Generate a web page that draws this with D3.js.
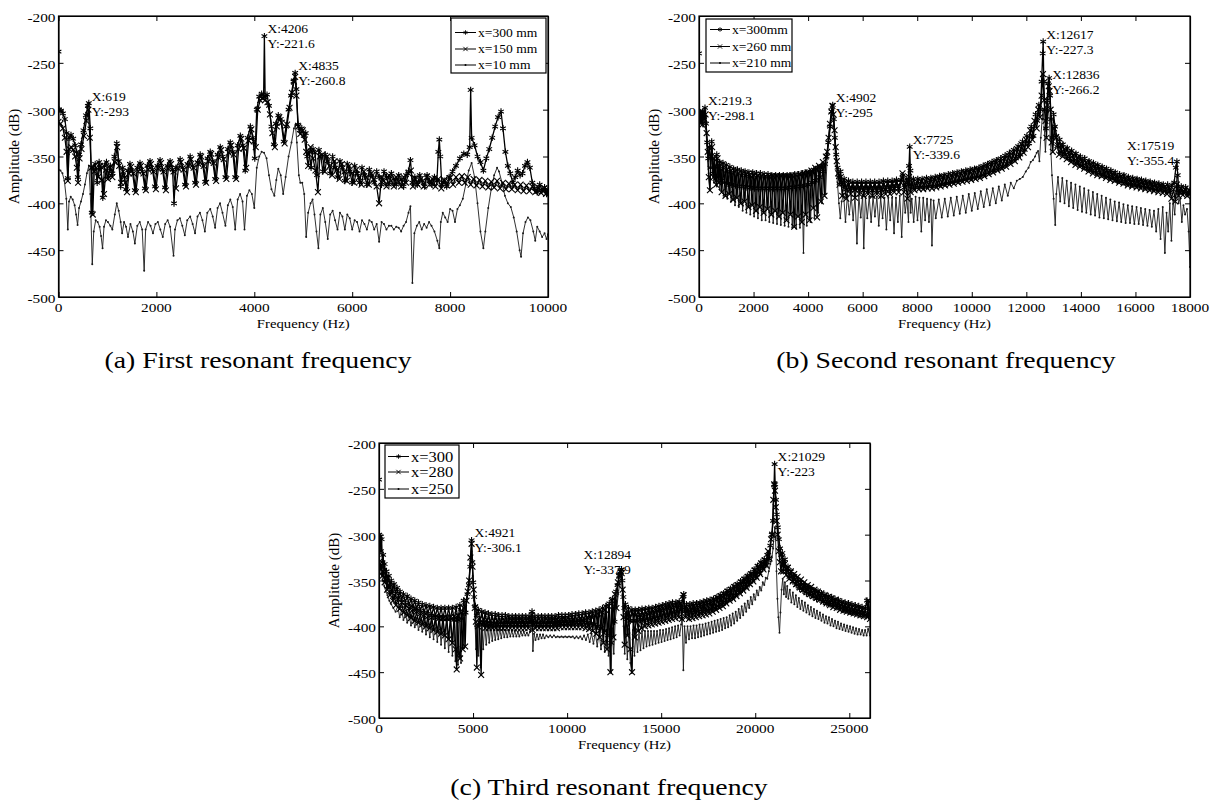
<!DOCTYPE html>
<html>
<head>
<meta charset="utf-8">
<script src="https://cdn.jsdelivr.net/npm/d3@7"></script>
<style>
  html, body { margin: 0; background: #fff; }
  svg text { font-family: "Liberation Serif", "Times New Roman", serif; fill: #000; }
</style>
</head>
<body>
<svg id="fig" width="1217" height="802"></svg>
<script>
// ---------- data: [frequency Hz, amplitude dB] ----------
const yTicks = [-500, -450, -400, -350, -300, -250, -200];
const aXTicks = [0, 2000, 4000, 6000, 8000, 10000];
const bXTicks = [0, 2000, 4000, 6000, 8000, 10000, 12000, 14000, 16000, 18000];
const cXTicks = [0, 5000, 10000, 15000, 20000, 25000];

const aLegend = ['x=300 mm', 'x=150 mm', 'x=10 mm'];
const bLegend = ['x=300mm', 'x=260 mm', 'x=210 mm'];
const cLegend = ['x=300', 'x=280', 'x=250'];

const aCaption = '(a) First resonant frequency';
const bCaption = '(b) Second resonant frequency';
const cCaption = '(c) Third resonant frequency';

const aPeaks = [[619, -293], [4206, -221.6], [4835, -260.8]];
const bPeaks = [[219.3, -298.1], [4902, -295], [7725, -339.6], [12617, -227.3], [12836, -266.2], [17519, -355.4]];
const cPeaks = [[4921, -306.1], [12894, -337.9], [21029, -223]];

const aSeries300 = [[0,-238],[10,-300],[50,-301],[90,-304],[130,-310],[165,-325],[190,-373],[215,-330],[255,-327],[300,-331],[340,-338],[370,-345],[395,-372],[420,-348],[460,-337],[510,-322],[560,-306],[600,-296],[619,-293],[650,-320],[680,-410],[710,-362],[750,-358],[790,-378],[830,-356],[870,-362],[905,-394],[940,-360],[980,-356],[1020,-372],[1060,-360],[1100,-368],[1140,-350],[1190,-336],[1230,-355],[1270,-382],[1310,-362],[1350,-372],[1380,-385],[1420,-365],[1460,-358],[1510,-366],[1560,-386],[1610,-362],[1665,-357],[1715,-366],[1765,-384],[1815,-360],[1870,-355],[1920,-364],[1970,-382],[2020,-360],[2075,-354],[2125,-364],[2175,-383],[2225,-360],[2280,-355],[2330,-364],[2360,-400],[2400,-362],[2485,-353],[2535,-362],[2585,-380],[2635,-358],[2690,-350],[2740,-360],[2790,-378],[2840,-356],[2895,-348],[2945,-358],[2995,-377],[3045,-352],[3100,-345],[3150,-355],[3200,-374],[3250,-348],[3305,-340],[3355,-350],[3410,-372],[3460,-342],[3510,-335],[3560,-345],[3610,-372],[3660,-338],[3715,-328],[3765,-338],[3815,-365],[3865,-330],[3920,-318],[3970,-330],[4010,-352],[4050,-300],[4100,-286],[4150,-283],[4190,-286],[4206,-221.6],[4222,-287],[4260,-284],[4300,-296],[4350,-318],[4400,-337],[4440,-315],[4490,-306],[4540,-310],[4600,-334],[4650,-318],[4700,-300],[4750,-285],[4800,-270],[4835,-260.8],[4860,-278],[4890,-316],[4930,-322],[4970,-320],[5010,-328],[5050,-325],[5080,-350],[5120,-345],[5160,-362],[5200,-342],[5240,-346],[5280,-370],[5320,-343],[5360,-350],[5400,-366],[5450,-348],[5500,-355],[5550,-368],[5600,-350],[5650,-362],[5700,-372],[5750,-355],[5800,-362],[5850,-376],[5900,-358],[5950,-366],[6000,-378],[6050,-360],[6100,-368],[6150,-378],[6200,-362],[6250,-370],[6300,-380],[6350,-364],[6400,-370],[6450,-378],[6500,-366],[6550,-372],[6600,-380],[6650,-366],[6700,-372],[6750,-380],[6800,-368],[6850,-374],[6900,-380],[6950,-370],[7000,-375],[7050,-382],[7100,-370],[7150,-366],[7190,-354],[7230,-378],[7280,-372],[7330,-380],[7380,-370],[7430,-376],[7480,-382],[7530,-370],[7580,-376],[7630,-380],[7680,-372],[7730,-376],[7760,-345],[7780,-332],[7800,-350],[7830,-380],[7880,-376],[7930,-382],[7980,-372],[8050,-366],[8120,-360],[8200,-352],[8280,-347],[8350,-348],[8400,-340],[8420,-279],[8440,-330],[8500,-338],[8560,-350],[8620,-356],[8680,-365],[8740,-352],[8800,-342],[8860,-330],[8920,-318],[8980,-308],[9040,-302],[9080,-320],[9130,-345],[9180,-360],[9230,-368],[9280,-378],[9330,-372],[9380,-365],[9430,-370],[9480,-368],[9530,-360],[9580,-356],[9630,-362],[9680,-378],[9730,-384],[9780,-388],[9830,-380],[9880,-386],[9930,-383],[9970,-390],[10000,-386]];

const aSeries150 = [[0,-313],[40,-315],[90,-320],[130,-330],[165,-345],[190,-376],[220,-342],[260,-340],[300,-343],[340,-350],[375,-362],[400,-378],[430,-352],[470,-342],[520,-328],[570,-312],[610,-300],[640,-330],[670,-362],[700,-412],[730,-366],[770,-362],[810,-372],[850,-360],[890,-375],[930,-390],[970,-364],[1010,-374],[1050,-362],[1100,-372],[1150,-356],[1200,-340],[1240,-360],[1280,-378],[1320,-366],[1365,-378],[1400,-388],[1440,-368],[1485,-361],[1530,-368],[1580,-388],[1630,-366],[1685,-360],[1735,-368],[1785,-386],[1835,-364],[1890,-358],[1940,-366],[1990,-385],[2040,-363],[2095,-357],[2145,-366],[2195,-386],[2245,-363],[2300,-358],[2350,-366],[2400,-384],[2450,-363],[2505,-356],[2555,-364],[2605,-382],[2655,-360],[2710,-353],[2760,-362],[2810,-380],[2860,-358],[2915,-350],[2965,-360],[3015,-378],[3065,-355],[3120,-347],[3170,-357],[3220,-376],[3270,-351],[3325,-343],[3375,-353],[3430,-374],[3480,-346],[3530,-338],[3580,-348],[3630,-374],[3680,-342],[3735,-331],[3785,-341],[3835,-362],[3885,-333],[3940,-321],[3990,-334],[4030,-340],[4070,-300],[4120,-290],[4170,-288],[4220,-290],[4270,-292],[4320,-305],[4370,-325],[4420,-340],[4460,-318],[4510,-308],[4560,-314],[4620,-336],[4670,-316],[4720,-298],[4770,-282],[4810,-270],[4835,-265],[4860,-285],[4900,-318],[4940,-326],[4990,-322],[5030,-332],[5060,-345],[5100,-360],[5150,-340],[5200,-352],[5250,-365],[5300,-388],[5340,-350],[5390,-348],[5440,-366],[5490,-350],[5540,-360],[5590,-370],[5640,-355],[5690,-364],[5740,-374],[5790,-358],[5840,-366],[5890,-376],[5940,-360],[5990,-368],[6040,-378],[6090,-364],[6140,-372],[6190,-380],[6240,-366],[6290,-372],[6340,-380],[6390,-368],[6440,-374],[6500,-382],[6550,-400],[6600,-372],[6650,-376],[6700,-382],[6750,-370],[6800,-376],[6850,-382],[6900,-372],[6950,-377],[7000,-382],[7050,-372],[7100,-378],[7150,-368],[7200,-365],[7240,-382],[7290,-374],[7340,-380],[7400,-374],[7460,-382],[7520,-372],[7580,-380],[7640,-374],[7700,-382],[7760,-374],[7820,-384],[7880,-375],[7940,-381],[8000,-373],[8060,-380],[8120,-372],[8180,-378],[8240,-371],[8300,-378],[8360,-372],[8420,-380],[8480,-374],[8540,-381],[8600,-375],[8660,-382],[8720,-376],[8780,-383],[8840,-377],[8900,-383],[8960,-376],[9020,-384],[9080,-378],[9140,-385],[9200,-379],[9260,-385],[9320,-380],[9380,-386],[9440,-380],[9500,-387],[9560,-381],[9620,-387],[9680,-382],[9740,-388],[9800,-383],[9860,-389],[9920,-384],[9960,-390],[10000,-386]];

const aSeries10 = [[0,-364],[40,-365],[80,-368],[120,-376],[160,-395],[190,-428],[215,-398],[250,-393],[290,-396],[330,-402],[360,-412],[390,-423],[420,-405],[460,-398],[500,-390],[540,-380],[580,-368],[620,-360],[650,-390],[690,-465],[720,-430],[760,-418],[800,-420],[840,-425],[870,-435],[900,-448],[930,-425],[970,-418],[1010,-420],[1060,-424],[1100,-428],[1150,-412],[1190,-400],[1230,-408],[1270,-420],[1300,-432],[1340,-420],[1380,-425],[1420,-436],[1470,-422],[1520,-430],[1560,-443],[1610,-424],[1660,-420],[1710,-428],[1750,-472],[1780,-428],[1830,-420],[1880,-424],[1930,-432],[1980,-422],[2030,-420],[2080,-428],[2130,-436],[2180,-422],[2230,-418],[2280,-425],[2350,-456],[2380,-428],[2430,-418],[2480,-416],[2530,-424],[2580,-434],[2630,-418],[2690,-414],[2740,-422],[2790,-432],[2840,-414],[2890,-410],[2940,-418],[2990,-430],[3040,-410],[3100,-406],[3150,-414],[3200,-426],[3250,-405],[3300,-400],[3350,-410],[3410,-424],[3460,-402],[3510,-396],[3560,-404],[3610,-428],[3660,-396],[3710,-390],[3760,-398],[3800,-428],[3850,-392],[3900,-386],[3950,-390],[4000,-405],[4050,-362],[4100,-350],[4150,-345],[4200,-346],[4250,-352],[4300,-370],[4350,-385],[4410,-392],[4450,-375],[4490,-363],[4540,-370],[4590,-390],[4640,-372],[4700,-350],[4760,-335],[4810,-320],[4840,-316],[4870,-335],[4910,-370],[4940,-378],[4980,-378],[5020,-390],[5060,-436],[5100,-410],[5150,-400],[5190,-396],[5230,-412],[5270,-430],[5310,-448],[5350,-412],[5400,-405],[5450,-420],[5500,-438],[5550,-412],[5600,-408],[5650,-418],[5700,-428],[5750,-410],[5800,-414],[5850,-428],[5900,-412],[5950,-416],[6000,-428],[6050,-418],[6100,-420],[6150,-430],[6200,-418],[6250,-422],[6300,-428],[6350,-418],[6400,-420],[6450,-428],[6500,-422],[6550,-441],[6600,-420],[6650,-422],[6700,-428],[6750,-424],[6800,-424],[6850,-428],[6900,-425],[6950,-426],[7000,-430],[7050,-424],[7100,-420],[7150,-410],[7190,-403],[7230,-485],[7270,-432],[7320,-424],[7370,-420],[7420,-428],[7470,-422],[7520,-426],[7570,-420],[7620,-424],[7680,-430],[7740,-440],[7780,-448],[7810,-420],[7850,-410],[7900,-415],[7950,-420],[8000,-406],[8050,-408],[8100,-420],[8150,-406],[8200,-402],[8260,-395],[8320,-380],[8380,-365],[8440,-357],[8500,-372],[8560,-400],[8620,-430],[8680,-448],[8720,-430],[8780,-405],[8840,-385],[8900,-370],[8960,-362],[9000,-366],[9060,-378],[9120,-392],[9180,-400],[9240,-404],[9300,-415],[9360,-430],[9420,-450],[9450,-457],[9490,-432],[9540,-420],[9590,-415],[9640,-418],[9700,-430],[9740,-440],[9780,-425],[9830,-430],[9880,-436],[9930,-432],[9970,-438],[10000,-433]];

const bSeries300 = [[0,-240],[20,-306],[60,-303],[100,-312],[140,-302],[180,-308],[219.3,-298.1],[260,-315],[300,-335],[340,-352],[380,-340],[420,-362],[465,-334],[510,-368],[560,-352],[600,-374],[650,-348],[700,-372],[760,-356],[820,-376],[880,-357],[940,-378],[1000,-359],[1060,-379],[1130,-361],[1200,-380],[1270,-363],[1340,-381],[1410,-364],[1480,-382],[1550,-365],[1620,-382],[1690,-366],[1760,-383],[1830,-367],[1900,-383],[1970,-367],[2040,-384],[2110,-368],[2180,-384],[2250,-368],[2320,-384],[2390,-369],[2460,-384],[2530,-369],[2600,-384],[2670,-370],[2740,-384],[2810,-370],[2880,-384],[2950,-370],[3020,-384],[3090,-370],[3160,-384],[3230,-370],[3300,-383],[3370,-370],[3440,-383],[3510,-369],[3580,-382],[3650,-369],[3720,-382],[3790,-368],[3860,-381],[3930,-367],[4000,-380],[4070,-366],[4140,-378],[4210,-364],[4280,-376],[4350,-362],[4420,-372],[4490,-360],[4560,-366],[4620,-358],[4680,-350],[4740,-335],[4800,-318],[4860,-302],[4902,-295],[4940,-310],[4980,-330],[5030,-348],[5080,-362],[5130,-372],[5190,-366],[5250,-380],[5320,-374],[5400,-385],[5480,-376],[5560,-386],[5640,-377],[5720,-386],[5800,-377],[5880,-386],[5960,-377],[6040,-386],[6120,-377],[6200,-386],[6280,-377],[6360,-386],[6440,-377],[6520,-386],[6600,-377],[6680,-386],[6760,-376],[6840,-385],[6920,-376],[7000,-385],[7080,-376],[7160,-384],[7240,-375],[7320,-384],[7400,-375],[7480,-370],[7540,-383],[7600,-374],[7660,-380],[7700,-360],[7725,-339.6],[7750,-365],[7800,-382],[7860,-374],[7940,-383],[8020,-374],[8100,-383],[8180,-374],[8260,-383],[8340,-373],[8420,-382],[8500,-373],[8580,-382],[8660,-372],[8740,-381],[8820,-371],[8900,-380],[8980,-370],[9060,-379],[9140,-369],[9220,-378],[9300,-368],[9380,-377],[9460,-367],[9540,-376],[9620,-366],[9700,-375],[9780,-365],[9860,-374],[9940,-364],[10020,-373],[10100,-363],[10180,-372],[10260,-362],[10340,-371],[10420,-360],[10500,-369],[10580,-358],[10660,-367],[10740,-356],[10820,-365],[10900,-354],[10980,-363],[11060,-352],[11140,-361],[11220,-349],[11300,-358],[11380,-346],[11460,-355],[11540,-343],[11620,-352],[11700,-339],[11780,-348],[11860,-334],[11940,-343],[12020,-328],[12100,-336],[12180,-318],[12260,-328],[12340,-305],[12400,-312],[12460,-295],[12520,-300],[12560,-270],[12600,-240],[12617,-227.3],[12640,-270],[12680,-300],[12720,-320],[12760,-290],[12800,-272],[12836,-266.2],[12870,-285],[12910,-310],[12950,-330],[13000,-305],[13050,-318],[13100,-328],[13160,-340],[13220,-332],[13280,-345],[13340,-337],[13420,-348],[13500,-341],[13580,-352],[13660,-344],[13740,-355],[13820,-347],[13900,-358],[13980,-350],[14060,-360],[14140,-352],[14220,-363],[14300,-355],[14380,-365],[14460,-357],[14540,-367],[14620,-359],[14700,-369],[14780,-361],[14860,-371],[14940,-363],[15020,-372],[15100,-365],[15180,-374],[15260,-367],[15340,-376],[15420,-369],[15500,-377],[15580,-370],[15660,-379],[15740,-372],[15820,-380],[15900,-373],[15980,-381],[16060,-374],[16140,-382],[16220,-375],[16300,-383],[16380,-376],[16460,-384],[16540,-377],[16620,-385],[16700,-378],[16780,-386],[16860,-379],[16940,-386],[17020,-380],[17100,-387],[17180,-380],[17260,-388],[17340,-381],[17420,-378],[17480,-362],[17519,-355.4],[17550,-370],[17600,-388],[17680,-382],[17760,-389],[17840,-383],[17920,-390],[18000,-386]];

const bSeries260 = [[0,-308],[40,-312],[80,-305],[120,-316],[160,-304],[200,-310],[240,-305],[280,-325],[320,-345],[360,-372],[400,-386],[440,-350],[480,-340],[530,-372],[580,-360],[630,-380],[680,-352],[730,-378],[760,-360],[830,-388],[900,-362],[970,-392],[1040,-364],[1110,-390],[1180,-365],[1250,-396],[1320,-366],[1390,-394],[1460,-368],[1530,-400],[1600,-368],[1670,-398],[1740,-369],[1810,-404],[1880,-370],[1950,-402],[2020,-370],[2090,-408],[2160,-371],[2230,-404],[2300,-371],[2370,-410],[2440,-371],[2510,-406],[2580,-371],[2650,-412],[2720,-371],[2790,-408],[2860,-371],[2930,-414],[3000,-371],[3070,-410],[3140,-371],[3210,-418],[3280,-371],[3350,-412],[3420,-370],[3490,-425],[3560,-370],[3630,-414],[3700,-369],[3770,-420],[3840,-368],[3910,-412],[3980,-367],[4050,-418],[4120,-365],[4190,-405],[4260,-362],[4330,-415],[4400,-360],[4470,-398],[4540,-356],[4600,-392],[4650,-350],[4700,-345],[4750,-330],[4800,-315],[4850,-302],[4890,-296],[4930,-305],[4970,-322],[5010,-340],[5050,-355],[5100,-368],[5150,-380],[5200,-372],[5250,-392],[5320,-378],[5400,-395],[5480,-380],[5560,-390],[5640,-380],[5720,-394],[5800,-380],[5880,-390],[5960,-380],[6040,-392],[6120,-380],[6200,-390],[6280,-380],[6360,-392],[6440,-380],[6520,-390],[6600,-380],[6680,-392],[6760,-380],[6840,-390],[6920,-379],[7000,-390],[7080,-379],[7160,-388],[7240,-378],[7320,-388],[7400,-378],[7460,-368],[7520,-388],[7580,-378],[7640,-395],[7700,-372],[7760,-388],[7820,-378],[7900,-386],[7980,-377],[8060,-385],[8140,-376],[8220,-385],[8300,-376],[8380,-384],[8460,-375],[8540,-384],[8620,-374],[8700,-383],[8780,-373],[8860,-382],[8940,-372],[9020,-381],[9100,-371],[9180,-380],[9260,-370],[9340,-379],[9420,-369],[9500,-378],[9580,-368],[9660,-377],[9740,-367],[9820,-376],[9900,-366],[9980,-375],[10060,-365],[10140,-374],[10220,-364],[10300,-373],[10380,-362],[10460,-371],[10540,-360],[10620,-369],[10700,-358],[10780,-367],[10860,-356],[10940,-365],[11020,-354],[11100,-363],[11180,-352],[11260,-361],[11340,-349],[11420,-358],[11500,-346],[11580,-355],[11660,-342],[11740,-351],[11820,-337],[11900,-346],[11980,-332],[12060,-340],[12140,-322],[12220,-332],[12300,-312],[12380,-320],[12440,-300],[12500,-308],[12560,-285],[12610,-262],[12650,-290],[12700,-312],[12740,-330],[12780,-295],[12820,-275],[12850,-280],[12890,-300],[12930,-335],[12970,-345],[13020,-320],[13080,-330],[13140,-338],[13200,-348],[13260,-338],[13330,-350],[13400,-342],[13480,-353],[13560,-345],[13640,-356],[13720,-348],[13800,-359],[13880,-351],[13960,-361],[14040,-353],[14120,-363],[14200,-356],[14280,-366],[14360,-358],[14440,-368],[14520,-360],[14600,-370],[14680,-362],[14760,-371],[14840,-364],[14920,-373],[15000,-366],[15080,-375],[15160,-368],[15240,-376],[15320,-370],[15400,-378],[15480,-371],[15560,-379],[15640,-373],[15720,-381],[15800,-374],[15880,-382],[15960,-375],[16040,-383],[16120,-376],[16200,-384],[16280,-377],[16360,-385],[16440,-378],[16520,-386],[16600,-379],[16680,-387],[16760,-380],[16840,-388],[16920,-381],[17000,-389],[17080,-382],[17160,-390],[17240,-383],[17320,-395],[17400,-385],[17460,-398],[17520,-380],[17580,-392],[17660,-384],[17740,-391],[17820,-385],[17900,-392],[17960,-386],[18000,-390]];

const bSeries210 = [[0,-310],[50,-315],[100,-308],[150,-318],[200,-312],[250,-320],[300,-345],[350,-368],[400,-386],[450,-352],[500,-348],[550,-378],[600,-362],[650,-382],[700,-360],[760,-385],[830,-364],[900,-392],[970,-366],[1040,-395],[1110,-367],[1180,-398],[1250,-368],[1320,-402],[1390,-369],[1460,-404],[1530,-370],[1600,-408],[1670,-371],[1740,-410],[1810,-371],[1880,-412],[1950,-372],[2020,-414],[2090,-372],[2160,-416],[2230,-372],[2300,-418],[2370,-372],[2440,-418],[2510,-372],[2580,-420],[2650,-372],[2720,-421],[2790,-372],[2860,-422],[2930,-372],[3000,-423],[3070,-372],[3140,-424],[3210,-372],[3280,-425],[3350,-371],[3420,-426],[3490,-371],[3560,-427],[3630,-370],[3700,-426],[3770,-369],[3830,-453],[3880,-368],[3950,-424],[4020,-367],[4090,-420],[4160,-366],[4230,-416],[4300,-364],[4370,-410],[4440,-362],[4510,-400],[4580,-358],[4640,-390],[4700,-350],[4760,-335],[4820,-318],[4870,-305],[4900,-302],[4940,-318],[4980,-340],[5030,-360],[5080,-380],[5130,-400],[5180,-416],[5230,-398],[5300,-390],[5370,-420],[5440,-391],[5510,-412],[5580,-392],[5650,-418],[5720,-392],[5790,-443],[5860,-392],[5930,-415],[6000,-392],[6040,-448],[6100,-393],[6170,-416],[6240,-393],[6310,-420],[6380,-393],[6450,-414],[6520,-393],[6590,-424],[6660,-394],[6730,-416],[6800,-394],[6870,-428],[6940,-394],[7010,-418],[7080,-394],[7150,-432],[7220,-394],[7290,-420],[7360,-392],[7430,-436],[7500,-388],[7560,-410],[7620,-395],[7680,-420],[7725,-360],[7760,-410],[7800,-395],[7870,-420],[7940,-393],[8010,-418],[8080,-394],[8150,-430],[8220,-394],[8290,-418],[8360,-395],[8430,-420],[8500,-396],[8540,-445],[8600,-397],[8680,-416],[8790,-396],[8900,-415],[9010,-395],[9120,-414],[9230,-394],[9340,-413],[9450,-393],[9560,-411],[9670,-392],[9780,-410],[9890,-390],[10000,-408],[10110,-389],[10220,-406],[10330,-387],[10440,-404],[10550,-385],[10660,-402],[10770,-384],[10880,-400],[10990,-382],[11100,-397],[11210,-380],[11320,-392],[11430,-378],[11540,-384],[11650,-376],[11760,-374],[11870,-372],[11980,-366],[12080,-362],[12160,-356],[12240,-354],[12320,-350],[12380,-346],[12430,-344],[12480,-355],[12530,-330],[12580,-310],[12617,-300],[12660,-320],[12700,-345],[12760,-310],[12820,-300],[12880,-330],[12940,-370],[13000,-395],[13060,-423],[13100,-390],[13160,-372],[13240,-398],[13320,-373],[13400,-400],[13480,-376],[13560,-403],[13640,-378],[13720,-405],[13800,-380],[13880,-407],[13960,-382],[14040,-409],[14120,-384],[14200,-410],[14280,-386],[14360,-412],[14440,-388],[14520,-413],[14600,-390],[14680,-415],[14760,-392],[14840,-416],[14920,-394],[15000,-417],[15080,-396],[15160,-418],[15240,-398],[15320,-419],[15400,-399],[15480,-420],[15560,-401],[15640,-421],[15720,-402],[15800,-421],[15880,-403],[15960,-422],[16040,-404],[16120,-422],[16200,-405],[16280,-423],[16360,-406],[16440,-424],[16520,-407],[16600,-425],[16680,-408],[16760,-430],[16840,-406],[16920,-438],[17000,-404],[17080,-453],[17140,-410],[17200,-430],[17260,-400],[17320,-440],[17380,-396],[17440,-412],[17519,-372],[17580,-400],[17640,-395],[17700,-420],[17760,-402],[17820,-412],[17890,-406],[17950,-430],[18000,-468]];

const cSeries300 = [[0,-240],[15,-300],[60,-302],[100,-318],[140,-305],[180,-330],[220,-322],[260,-338],[300,-332],[350,-346],[400,-340],[460,-352],[520,-345],[580,-356],[650,-350],[720,-360],[800,-354],[880,-364],[960,-358],[1040,-368],[1120,-362],[1200,-371],[1300,-365],[1400,-374],[1500,-367],[1600,-377],[1700,-370],[1800,-379],[1900,-372],[2000,-381],[2100,-374],[2200,-383],[2300,-376],[2400,-385],[2500,-377],[2600,-386],[2700,-378],[2800,-388],[2900,-379],[3000,-389],[3100,-380],[3200,-390],[3300,-380],[3400,-391],[3500,-380],[3600,-392],[3700,-380],[3800,-392],[3900,-380],[4000,-393],[4100,-379],[4200,-393],[4300,-377],[4400,-392],[4500,-372],[4600,-385],[4700,-365],[4780,-355],[4850,-335],[4921,-306.1],[4960,-330],[5010,-352],[5060,-368],[5120,-378],[5200,-388],[5280,-382],[5380,-396],[5460,-384],[5560,-396],[5640,-385],[5740,-397],[5820,-386],[5920,-397],[6000,-387],[6100,-397],[6180,-387],[6280,-398],[6360,-388],[6460,-398],[6540,-388],[6640,-398],[6720,-388],[6820,-398],[6900,-389],[7000,-398],[7080,-389],[7180,-398],[7260,-389],[7360,-398],[7440,-389],[7540,-398],[7620,-389],[7720,-398],[7800,-389],[7900,-398],[7980,-389],[8080,-396],[8135,-384],[8190,-396],[8280,-389],[8380,-398],[8460,-389],[8560,-398],[8640,-389],[8740,-398],[8820,-389],[8920,-398],[9000,-389],[9100,-398],[9180,-389],[9280,-398],[9360,-389],[9460,-397],[9540,-388],[9640,-397],[9720,-388],[9820,-397],[9900,-388],[10000,-397],[10080,-388],[10180,-397],[10260,-387],[10360,-396],[10440,-387],[10540,-396],[10620,-386],[10720,-396],[10800,-386],[10900,-396],[10980,-385],[11080,-396],[11160,-385],[11260,-397],[11340,-384],[11440,-398],[11520,-383],[11620,-400],[11700,-382],[11800,-402],[11880,-380],[11980,-405],[12060,-378],[12160,-410],[12240,-375],[12340,-418],[12420,-370],[12520,-395],[12600,-362],[12680,-355],[12760,-345],[12830,-340],[12894,-337.9],[12940,-350],[12990,-368],[13040,-380],[13100,-376],[13180,-392],[13260,-380],[13360,-394],[13440,-382],[13540,-394],[13620,-382],[13720,-394],[13800,-382],[13900,-393],[13980,-381],[14080,-393],[14160,-381],[14260,-392],[14340,-380],[14440,-392],[14520,-380],[14620,-391],[14700,-379],[14800,-390],[14880,-378],[14980,-389],[15060,-377],[15160,-388],[15240,-376],[15340,-387],[15420,-375],[15520,-386],[15600,-374],[15700,-385],[15780,-374],[15880,-384],[15960,-373],[16060,-382],[16140,-368],[16200,-365],[16260,-384],[16340,-376],[16440,-386],[16520,-376],[16620,-385],[16700,-375],[16800,-385],[16880,-375],[16980,-384],[17060,-374],[17160,-384],[17240,-373],[17340,-383],[17420,-372],[17520,-382],[17600,-371],[17700,-381],[17780,-370],[17880,-380],[17960,-368],[18060,-378],[18140,-366],[18240,-376],[18320,-364],[18420,-374],[18500,-361],[18600,-371],[18680,-359],[18780,-369],[18860,-356],[18960,-366],[19040,-354],[19140,-363],[19220,-351],[19320,-360],[19400,-348],[19500,-357],[19580,-345],[19680,-354],[19760,-342],[19860,-350],[19940,-338],[20040,-346],[20120,-334],[20220,-342],[20300,-330],[20400,-337],[20480,-327],[20560,-333],[20640,-322],[20720,-328],[20800,-312],[20880,-300],[20950,-285],[21000,-245],[21029,-223],[21060,-245],[21100,-262],[21150,-278],[21200,-292],[21260,-305],[21320,-315],[21380,-322],[21440,-320],[21500,-332],[21580,-327],[21660,-340],[21740,-335],[21820,-346],[21900,-340],[22000,-351],[22080,-345],[22180,-355],[22260,-349],[22360,-359],[22440,-352],[22540,-361],[22620,-355],[22720,-364],[22800,-357],[22900,-366],[22980,-359],[23080,-368],[23160,-361],[23260,-370],[23340,-362],[23440,-371],[23520,-364],[23620,-373],[23700,-366],[23800,-375],[23880,-367],[23980,-376],[24060,-368],[24160,-377],[24240,-370],[24340,-379],[24420,-371],[24520,-380],[24600,-373],[24700,-382],[24780,-374],[24880,-383],[24960,-375],[25060,-384],[25140,-376],[25240,-385],[25320,-377],[25420,-386],[25500,-378],[25600,-387],[25680,-379],[25780,-388],[25860,-380],[25940,-372],[26020,-389],[26100,-382]];

const cSeries280 = [[0,-330],[40,-332],[80,-338],[130,-333],[180,-345],[240,-340],[300,-352],[360,-348],[430,-360],[500,-355],[580,-366],[660,-360],[740,-372],[820,-366],[900,-377],[1000,-370],[1100,-381],[1200,-374],[1300,-385],[1400,-377],[1500,-388],[1600,-380],[1700,-391],[1800,-382],[1900,-394],[2000,-384],[2100,-396],[2200,-386],[2300,-398],[2400,-388],[2500,-400],[2600,-389],[2700,-402],[2800,-390],[2900,-404],[3000,-390],[3100,-406],[3200,-391],[3300,-408],[3400,-391],[3500,-410],[3600,-391],[3700,-414],[3800,-390],[3900,-418],[4000,-389],[4080,-425],[4130,-447],[4180,-388],[4250,-430],[4310,-435],[4370,-385],[4450,-425],[4520,-380],[4580,-422],[4650,-372],[4720,-362],[4790,-350],[4860,-325],[4921,-310],[4970,-335],[5030,-360],[5090,-380],[5150,-395],[5200,-445],[5260,-400],[5330,-392],[5430,-453],[5480,-398],[5560,-392],[5650,-402],[5740,-393],[5840,-402],[5930,-394],[6030,-402],[6120,-394],[6220,-402],[6310,-394],[6410,-402],[6500,-394],[6600,-402],[6690,-394],[6790,-402],[6880,-394],[6980,-402],[7070,-394],[7170,-402],[7260,-394],[7360,-402],[7450,-394],[7550,-402],[7640,-394],[7740,-402],[7830,-394],[7930,-402],[8020,-394],[8120,-388],[8160,-404],[8220,-394],[8320,-402],[8410,-394],[8510,-402],[8600,-394],[8700,-402],[8790,-394],[8890,-402],[8980,-394],[9080,-402],[9170,-394],[9270,-402],[9360,-394],[9460,-402],[9550,-394],[9650,-401],[9740,-393],[9840,-401],[9930,-393],[10030,-401],[10120,-393],[10220,-401],[10310,-392],[10410,-401],[10500,-392],[10600,-401],[10690,-391],[10790,-401],[10880,-391],[10980,-402],[11070,-390],[11170,-403],[11260,-389],[11360,-405],[11450,-388],[11550,-408],[11640,-386],[11740,-412],[11830,-384],[11930,-418],[12020,-382],[12120,-425],[12210,-378],[12300,-450],[12380,-372],[12460,-412],[12540,-365],[12620,-380],[12700,-352],[12780,-345],[12850,-340],[12900,-342],[12950,-360],[13000,-390],[13060,-420],[13120,-385],[13200,-410],[13280,-386],[13360,-425],[13450,-450],[13520,-386],[13600,-412],[13680,-387],[13780,-405],[13860,-387],[13960,-402],[14040,-386],[14140,-400],[14220,-385],[14320,-399],[14400,-384],[14500,-398],[14580,-383],[14680,-397],[14760,-382],[14860,-396],[14940,-381],[15040,-395],[15120,-380],[15220,-394],[15300,-379],[15400,-393],[15480,-378],[15580,-392],[15660,-377],[15760,-391],[15840,-376],[15940,-390],[16020,-375],[16100,-392],[16180,-366],[16240,-380],[16300,-390],[16380,-380],[16480,-392],[16560,-379],[16660,-391],[16740,-378],[16840,-390],[16920,-377],[17020,-389],[17100,-376],[17200,-388],[17280,-375],[17380,-387],[17460,-374],[17560,-386],[17640,-373],[17740,-384],[17820,-371],[17920,-382],[18000,-369],[18100,-380],[18180,-367],[18280,-378],[18360,-365],[18460,-375],[18540,-362],[18640,-372],[18720,-360],[18820,-370],[18900,-357],[19000,-367],[19080,-355],[19180,-364],[19260,-352],[19360,-361],[19440,-349],[19540,-358],[19620,-346],[19720,-354],[19800,-343],[19900,-351],[19980,-339],[20080,-347],[20160,-335],[20260,-343],[20340,-332],[20440,-338],[20520,-328],[20600,-334],[20680,-318],[20760,-326],[20840,-305],[20900,-300],[20960,-262],[21010,-245],[21050,-252],[21090,-270],[21140,-285],[21190,-300],[21250,-318],[21310,-330],[21370,-340],[21430,-325],[21490,-340],[21570,-332],[21650,-344],[21730,-336],[21810,-348],[21890,-340],[21990,-351],[22070,-343],[22170,-354],[22250,-346],[22350,-357],[22430,-349],[22530,-360],[22610,-352],[22710,-362],[22790,-355],[22890,-365],[22970,-357],[23070,-367],[23150,-360],[23250,-369],[23330,-362],[23430,-371],[23510,-364],[23610,-373],[23690,-366],[23790,-375],[23870,-368],[23970,-377],[24050,-370],[24150,-379],[24230,-372],[24330,-380],[24410,-374],[24510,-382],[24590,-375],[24690,-383],[24770,-377],[24870,-384],[24950,-378],[25050,-385],[25130,-379],[25230,-386],[25310,-380],[25410,-387],[25490,-381],[25590,-388],[25670,-382],[25770,-389],[25850,-383],[25950,-390],[26020,-372],[26100,-392]];

const cSeries250 = [[0,-330],[60,-336],[120,-342],[200,-350],[280,-356],[360,-362],[450,-366],[550,-372],[650,-376],[760,-380],[880,-384],[1000,-378],[1100,-390],[1200,-382],[1300,-393],[1400,-385],[1500,-396],[1600,-387],[1700,-399],[1800,-389],[1900,-401],[2000,-391],[2100,-404],[2200,-392],[2300,-406],[2400,-393],[2500,-409],[2600,-394],[2700,-412],[2800,-395],[2900,-414],[3000,-395],[3100,-417],[3200,-395],[3300,-420],[3400,-395],[3500,-424],[3600,-394],[3700,-428],[3800,-393],[3900,-432],[3980,-392],[4060,-438],[4120,-390],[4200,-442],[4280,-386],[4360,-440],[4440,-382],[4520,-424],[4600,-376],[4680,-368],[4760,-355],[4840,-335],[4921,-318],[4980,-345],[5050,-372],[5110,-400],[5160,-425],[5210,-398],[5280,-432],[5340,-396],[5400,-445],[5460,-397],[5540,-425],[5620,-398],[5700,-420],[5780,-399],[5860,-418],[5940,-400],[6020,-416],[6100,-401],[6180,-415],[6260,-402],[6340,-414],[6420,-403],[6500,-413],[6580,-403],[6660,-412],[6740,-404],[6820,-412],[6900,-404],[6980,-411],[7060,-405],[7140,-411],[7220,-405],[7300,-411],[7380,-406],[7460,-411],[7540,-406],[7620,-410],[7700,-406],[7780,-410],[7860,-407],[7940,-410],[8020,-406],[8100,-400],[8140,-390],[8180,-427],[8240,-408],[8320,-415],[8400,-409],[8480,-414],[8560,-409],[8640,-413],[8720,-409],[8800,-413],[8900,-410],[9000,-412],[9100,-410],[9200,-412],[9300,-410],[9400,-412],[9500,-411],[9600,-412],[9700,-411],[9800,-412],[9900,-411],[10000,-412],[10100,-411],[10200,-412],[10300,-411],[10400,-413],[10500,-411],[10600,-413],[10700,-411],[10800,-414],[10900,-410],[11000,-415],[11100,-409],[11200,-417],[11300,-408],[11400,-419],[11500,-407],[11600,-422],[11700,-406],[11800,-425],[11900,-405],[12000,-428],[12100,-404],[12200,-432],[12280,-403],[12340,-451],[12400,-402],[12480,-430],[12560,-392],[12640,-380],[12720,-365],[12800,-352],[12880,-345],[12940,-365],[13000,-400],[13060,-430],[13120,-400],[13200,-436],[13280,-403],[13360,-440],[13440,-451],[13500,-404],[13580,-432],[13660,-405],[13740,-428],[13820,-405],[13900,-426],[13980,-405],[14060,-424],[14140,-405],[14220,-422],[14300,-405],[14380,-421],[14460,-405],[14540,-420],[14620,-405],[14700,-419],[14780,-405],[14860,-418],[14940,-404],[15020,-417],[15100,-404],[15180,-416],[15260,-403],[15340,-415],[15420,-402],[15500,-414],[15580,-401],[15660,-413],[15740,-400],[15820,-412],[15900,-399],[15980,-410],[16060,-398],[16120,-390],[16180,-448],[16240,-400],[16320,-418],[16400,-400],[16480,-414],[16560,-400],[16640,-413],[16720,-399],[16800,-413],[16880,-399],[16960,-412],[17040,-398],[17120,-411],[17200,-398],[17280,-410],[17360,-397],[17440,-409],[17520,-396],[17600,-408],[17680,-395],[17760,-407],[17840,-394],[17920,-406],[18000,-393],[18080,-405],[18160,-392],[18240,-404],[18320,-391],[18400,-402],[18480,-390],[18560,-401],[18640,-388],[18720,-399],[18800,-386],[18880,-397],[18960,-384],[19040,-394],[19120,-381],[19200,-391],[19280,-378],[19360,-388],[19440,-375],[19520,-384],[19600,-372],[19680,-380],[19760,-368],[19840,-376],[19920,-365],[20000,-371],[20080,-361],[20160,-366],[20240,-357],[20320,-361],[20400,-352],[20480,-355],[20560,-347],[20640,-348],[20720,-340],[20800,-332],[20880,-325],[20950,-315],[21000,-300],[21040,-292],[21080,-305],[21130,-340],[21180,-370],[21230,-390],[21290,-407],[21340,-385],[21400,-360],[21460,-348],[21520,-365],[21580,-352],[21640,-368],[21700,-356],[21760,-370],[21840,-360],[21920,-374],[22000,-363],[22080,-376],[22160,-366],[22240,-379],[22320,-369],[22400,-381],[22480,-372],[22560,-383],[22640,-374],[22720,-385],[22800,-377],[22880,-387],[22960,-379],[23040,-389],[23120,-381],[23200,-391],[23280,-383],[23360,-392],[23440,-385],[23520,-394],[23600,-387],[23680,-396],[23760,-389],[23840,-397],[23920,-390],[24000,-399],[24080,-392],[24160,-400],[24240,-394],[24320,-402],[24400,-395],[24480,-403],[24560,-397],[24640,-404],[24720,-398],[24800,-405],[24880,-399],[24960,-406],[25040,-400],[25120,-407],[25200,-401],[25280,-408],[25360,-402],[25440,-409],[25520,-403],[25600,-409],[25680,-404],[25760,-410],[25840,-404],[25920,-410],[26000,-403],[26100,-410]];

// ---------- drawing ----------
const SX = 1.18; // the source figure is slightly stretched horizontally
const svg = d3.select('#fig');

function label(g, x, y, str, size, anchor) {
  return g.append('text')
    .attr('transform', `translate(${x},${y}) scale(${SX},1)`)
    .attr('text-anchor', anchor || 'start')
    .style('font-size', size + 'px')
    .text(str);
}

// marker styles for the three curves of each panel
const styles = [
  { type: d3.symbolAsterisk, size: 30, width: 1.3, mw: 1.1, color: '#000' },
  { type: d3.symbolTimes, size: 24, width: 1.3, mw: 1.1, color: '#000' },
  { type: null, r: 1.0, width: 0.9, color: '#1a1a1a' }
];

function drawMarker(g, st, cx, cy) {
  if (st.type) {
    g.append('path')
      .attr('d', d3.symbol().type(st.type).size(st.size)())
      .attr('transform', `translate(${cx},${cy})`)
      .attr('fill', 'none').attr('stroke', st.color).attr('stroke-width', st.mw || 0.8);
  } else {
    g.append('circle').attr('cx', cx).attr('cy', cy).attr('r', st.r).attr('fill', st.color);
  }
}

function drawPanel(p, idx) {
  const box = p.box;
  const x = d3.scaleLinear().domain([0, p.xMax]).range([box.left, box.right]);
  const y = d3.scaleLinear().domain([-500, -200]).range([box.bottom, box.top]);
  const g = svg.append('g');

  const clipId = 'clip' + idx;
  svg.append('clipPath').attr('id', clipId).append('rect')
    .attr('x', box.left).attr('y', box.top - 4)
    .attr('width', box.right - box.left).attr('height', box.bottom - box.top + 4);

  const plot = g.append('g').attr('clip-path', `url(#${clipId})`);
  const line = d3.line().x(d => x(d[0])).y(d => y(d[1]));

  // draw the lower curve first so the marked curves sit on top
  for (let k = p.series.length - 1; k >= 0; k--) {
    const st = styles[k];
    const s = plot.append('g');
    s.append('path').datum(p.series[k])
      .attr('d', line).attr('fill', 'none')
      .attr('stroke', st.color).attr('stroke-width', st.width)
      .attr('stroke-linejoin', 'round');
    p.series[k].forEach(d => drawMarker(s, st, x(d[0]), y(d[1])));
  }

  // box with inward ticks on all four sides
  const tick = 5;
  g.append('g').attr('transform', `translate(0,${box.bottom})`)
    .call(d3.axisBottom(x).tickValues(p.xTicks).tickSizeInner(-tick).tickSizeOuter(0).tickFormat(''));
  g.append('g').attr('transform', `translate(0,${box.top})`)
    .call(d3.axisTop(x).tickValues(p.xTicks).tickSizeInner(-tick).tickSizeOuter(0).tickFormat(''));
  g.append('g').attr('transform', `translate(${box.left},0)`)
    .call(d3.axisLeft(y).tickValues(yTicks).tickSizeInner(-tick).tickSizeOuter(0).tickFormat(''));
  g.append('g').attr('transform', `translate(${box.right},0)`)
    .call(d3.axisRight(y).tickValues(yTicks).tickSizeInner(-tick).tickSizeOuter(0).tickFormat(''));
  g.selectAll('.domain').attr('stroke', '#000').attr('stroke-width', 1.2);
  g.selectAll('.tick line').attr('stroke', '#000');
  g.append('rect').attr('x', box.left).attr('y', box.top)
    .attr('width', box.right - box.left).attr('height', box.bottom - box.top)
    .attr('fill', 'none').attr('stroke', '#000').attr('stroke-width', 1.2);

  // tick labels
  yTicks.forEach(v => label(g, box.left - 3, y(v) + 6, String(v), 13, 'end'));
  p.xTicks.forEach(v => label(g, x(v), box.bottom + 14.5, String(v), 13, 'middle'));

  // axis titles
  label(g, (box.left + box.right) / 2, box.bottom + 31, 'Frequency (Hz)', 12.5, 'middle');
  g.append('text')
    .attr('transform', `translate(${box.left - 40},${(box.top + box.bottom) / 2}) rotate(-90)`)
    .attr('text-anchor', 'middle').style('font-size', '15px')
    .text('Amplitude (dB)');

  // data tips
  p.peaks.forEach((pk, i) => {
    const lay = Object.assign({ dx: 3, dy1: -3, dy2: 12 }, (p.noteLayout || {})[i]);
    const px = x(pk[0]), py = y(pk[1]);
    label(g, px + lay.dx, py + lay.dy1, 'X:' + pk[0], 11.5);
    label(g, px + lay.dx, py + lay.dy2, 'Y:' + pk[1], 11.5);
  });

  // legend
  const L = p.legend;
  g.append('rect').attr('x', L.x).attr('y', L.y).attr('width', L.w).attr('height', L.h)
    .attr('fill', '#fff').attr('stroke', '#000').attr('stroke-width', 1.2);
  p.names.forEach((name, k) => {
    const ry = L.rows[k];
    const st = styles[k];
    g.append('line').attr('x1', L.lineX).attr('x2', L.lineX + L.lineW)
      .attr('y1', ry).attr('y2', ry).attr('stroke', '#000').attr('stroke-width', 1);
    drawMarker(g, st.type ? { type: st.type, size: 14, mw: 0.9, color: '#000' } : { type: null, r: 1, color: '#000' },
      L.lineX + L.lineW / 2, ry);
    label(g, L.lineX + L.lineW + 2, ry + L.font * 0.36, name, L.font);
  });

  // caption
  label(svg, p.caption.x, p.caption.y, p.caption.text, 23.5, 'middle');
}

const panels = [
  {
    box: { left: 58.5, top: 16, right: 548, bottom: 297 }, xMax: 10000, xTicks: aXTicks,
    series: [aSeries300, aSeries150, aSeries10], names: aLegend, peaks: aPeaks,
    noteLayout: { 0: { dy1: -2, dy2: 13 } },
    legend: { x: 451, y: 18, w: 95, h: 55, lineX: 455, lineW: 21, rows: [32.5, 49, 65], font: 11.5 },
    caption: { x: 258, y: 368, text: aCaption }
  },
  {
    box: { left: 699, top: 16, right: 1190, bottom: 297 }, xMax: 18000, xTicks: bXTicks,
    series: [bSeries300, bSeries260, bSeries210], names: bLegend, peaks: bPeaks,
    noteLayout: { 4: { dy1: 1, dy2: 16 }, 5: { dx: -50, dy1: -12, dy2: 3 } },
    legend: { x: 706, y: 19, w: 86, h: 53, lineX: 710, lineW: 20, rows: [29.5, 46.5, 63], font: 11.5 },
    caption: { x: 946, y: 368, text: bCaption }
  },
  {
    box: { left: 379, top: 443, right: 870, bottom: 718 }, xMax: 26100, xTicks: cXTicks,
    series: [cSeries300, cSeries280, cSeries250], names: cLegend, peaks: cPeaks,
    noteLayout: { 1: { dx: -38, dy1: -10, dy2: 5 } },
    legend: { x: 385, y: 445, w: 74, h: 53, lineX: 388, lineW: 21, rows: [456.5, 472, 489], font: 14 },
    caption: { x: 609, y: 795, text: cCaption }
  }
];

panels.forEach(drawPanel);
</script>
</body>
</html>
